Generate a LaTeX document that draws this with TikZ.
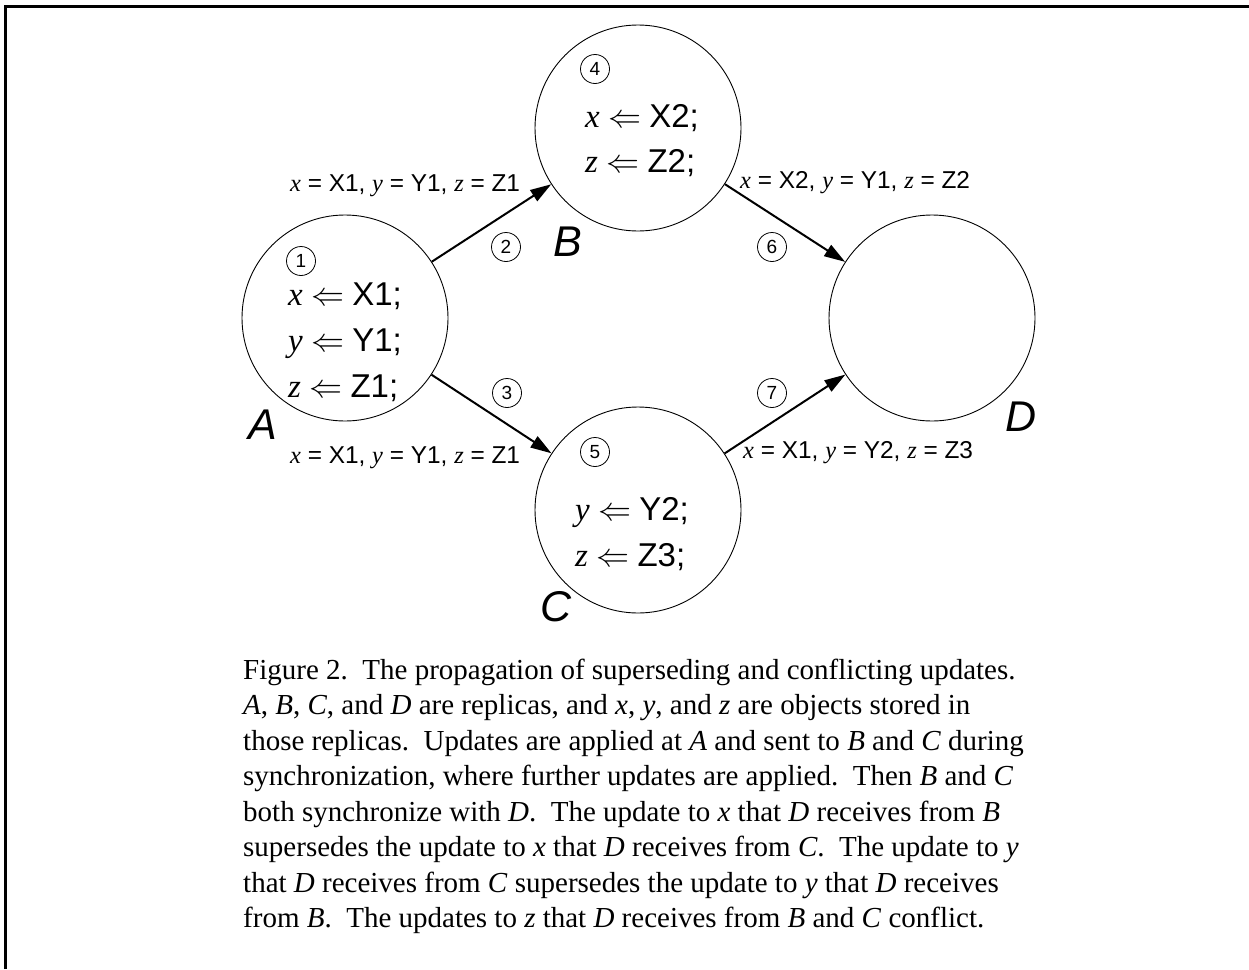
\documentclass[tikz,border=0pt]{standalone}
\usepackage{fix-cm}
\usepackage{fontspec}
\setmainfont{Liberation Serif}
\setsansfont{Liberation Sans}
\usetikzlibrary{arrows.meta}
\newcommand\vv[1]{{\rmfamily\itshape #1}}
\newcommand\asg[2]{\vv{#1} $\Leftarrow$ \textsf{#2}}
\begin{document}
\begin{tikzpicture}[x=1pt,y=-1pt,
  replica/.style={circle,draw,line width=0.9pt,minimum size=206pt,inner sep=0pt},
  num/.style={circle,draw,line width=0.8pt,minimum size=29pt,inner sep=0pt,font=\sffamily\fontsize{19}{19}\selectfont},
  assign/.style={anchor=base west,inner sep=0pt,font=\fontsize{33}{33}\selectfont},
  elabel/.style={anchor=base west,inner sep=0pt,font=\sffamily\fontsize{24.4}{24.4}\selectfont},
  rname/.style={inner sep=0pt,font=\sffamily\itshape\fontsize{43}{43}\selectfont},
  captionline/.style={anchor=base west,inner sep=0pt,font=\fontsize{29}{35}\selectfont},
  flow/.style={line width=2pt,-{Triangle[length=21pt,width=13pt]}},
  frameline/.style={line width=3pt}]
\useasboundingbox (0,0) rectangle (1249,969);
\draw[frameline] (5,969) -- (5,6) -- (1249,6);

% replicas
\node[replica] (A) at (345,318) {};
\node[replica] (B) at (638,128) {};
\node[replica] (C) at (638,510) {};
\node[replica] (D) at (932,318) {};

% replica names
\node[rname] (nA) at (263,425) {A};
\node[rname] (nB) at (568,242) {B};
\node[rname] (nC) at (556,607) {C};
\node[rname] (nD) at (1021,417) {D};

% assignments
\node[assign] (a1) at (288,305) {\asg{x}{X1;}};
\node[assign] (a2) at (288,351) {\asg{y}{Y1;}};
\node[assign] (a3) at (288,397) {\asg{z}{Z1;}};
\node[assign] (b1) at (585,127) {\asg{x}{X2;}};
\node[assign] (b2) at (585,172) {\asg{z}{Z2;}};
\node[assign] (c1) at (575,520) {\asg{y}{Y2;}};
\node[assign] (c2) at (575,566) {\asg{z}{Z3;}};

% step numbers
\node[num] (s1) at (301,261) {1};
\node[num] (s2) at (506,247) {2};
\node[num] (s3) at (507,393) {3};
\node[num] (s4) at (595,69) {4};
\node[num] (s5) at (595,452) {5};
\node[num] (s6) at (772,247) {6};
\node[num] (s7) at (772,393) {7};

% connectors
\draw[flow] (A) -- (B);
\draw[flow] (A) -- (C);
\draw[flow] (B) -- (D);
\draw[flow] (C) -- (D);

% edge labels
\node[elabel] (e1) at (290,191) {\vv{x} = X1, \vv{y} = Y1, \vv{z} = Z1};
\node[elabel] (e2) at (290,463) {\vv{x} = X1, \vv{y} = Y1, \vv{z} = Z1};
\node[elabel] (e3) at (740,188) {\vv{x} = X2, \vv{y} = Y1, \vv{z} = Z2};
\node[elabel] (e4) at (743,458) {\vv{x} = X1, \vv{y} = Y2, \vv{z} = Z3};

% caption
\node[captionline] (l1) at (243,679) {Figure 2.\ \ The propagation of superseding and conflicting updates.};
\node[captionline] (l2) at (243,714.5) {\textit{A}, \textit{B}, \textit{C}, and \textit{D} are replicas, and \textit{x}, \textit{y}, and \textit{z} are objects stored in};
\node[captionline] (l3) at (243,750) {those replicas.\ \ Updates are applied at \textit{A} and sent to \textit{B} and \textit{C} during};
\node[captionline] (l4) at (243,785.5) {synchronization, where further updates are applied.\ \ Then \textit{B} and \textit{C}};
\node[captionline] (l5) at (243,821) {both synchronize with \textit{D}.\ \ The update to \textit{x} that \textit{D} receives from \textit{B}};
\node[captionline] (l6) at (243,856.5) {supersedes the update to \textit{x} that \textit{D} receives from \textit{C}.\ \ The update to \textit{y}};
\node[captionline] (l7) at (243,892) {that \textit{D} receives from \textit{C} supersedes the update to \textit{y} that \textit{D} receives};
\node[captionline] (l8) at (243,927.5) {from \textit{B}.\ \ The updates to \textit{z} that \textit{D} receives from \textit{B} and \textit{C} conflict.};
\end{tikzpicture}
\end{document}
